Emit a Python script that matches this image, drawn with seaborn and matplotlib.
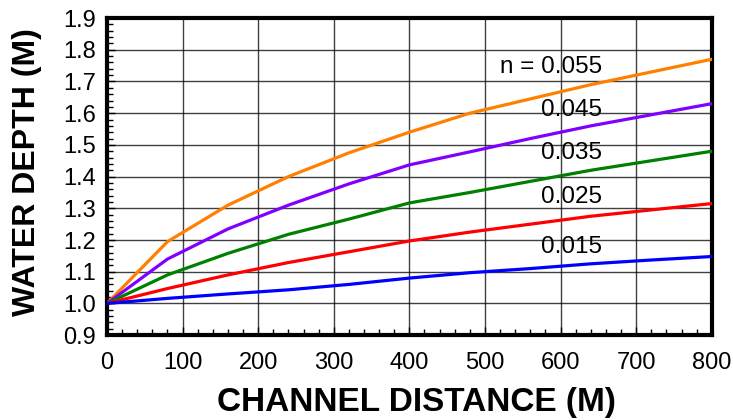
import pandas as pd
import matplotlib
matplotlib.use("Agg")
import matplotlib.pyplot as plt
import seaborn as sns
from matplotlib.ticker import MultipleLocator

# Values
distance = [0, 80, 160, 240, 320, 400, 480, 560, 640, 720, 800]
depth_0055 = [1.0, 1.195, 1.31, 1.40, 1.475, 1.54, 1.60, 1.645, 1.69, 1.73, 1.77]
depth_0045 = [1.0, 1.14, 1.235, 1.31, 1.377, 1.437, 1.478, 1.52, 1.56, 1.595, 1.63]
depth_0035 = [1.0, 1.09, 1.158, 1.218, 1.266, 1.317, 1.35, 1.385, 1.42, 1.45, 1.48]
depth_0025 = [1.0, 1.047, 1.09, 1.129, 1.163, 1.197, 1.225, 1.25, 1.275, 1.295, 1.315]
depth_0015 = [1.0, 1.016, 1.03, 1.043, 1.06, 1.08, 1.097, 1.11, 1.125, 1.137, 1.148]

roughness = ["0.055", "0.045", "0.035", "0.025", "0.015"]
curve_labels = ["n = 0.055", "0.045", "0.035", "0.025", "0.015"]
label_y = [1.745, 1.609, 1.473, 1.336, 1.179]
colors = ["#ff8000", "#8000ff", "#008000", "#ff0000", "#0000ff"]

series = [depth_0055, depth_0045, depth_0035, depth_0025, depth_0015]
df = pd.concat(
    [pd.DataFrame({"distance": distance, "depth": s, "n": r}) for s, r in zip(series, roughness)],
    ignore_index=True,
)

sns.set_style("white")
plt.rcParams["font.family"] = ["Liberation Sans", "DejaVu Sans"]
plt.rcParams["text.color"] = "black"
plt.rcParams["axes.labelcolor"] = "black"
plt.rcParams["xtick.color"] = "black"
plt.rcParams["ytick.color"] = "black"

fig = plt.figure(figsize=(7.33, 4.2), dpi=100)
ax = fig.add_axes([0.146, 0.202, 0.825, 0.755])

sns.lineplot(data=df, x="distance", y="depth", hue="n", palette=colors,
             hue_order=roughness, linewidth=2.3, legend=False, ax=ax, zorder=3)

for lab, yv in zip(curve_labels, label_y):
    ax.text(655, yv, lab, ha="right", va="center", fontsize=17.5, zorder=4)

ax.set_xlim(0, 800)
ax.set_ylim(0.9, 1.9)
ax.xaxis.set_major_locator(MultipleLocator(100))
ax.xaxis.set_minor_locator(MultipleLocator(20))
ax.yaxis.set_major_locator(MultipleLocator(0.1))
ax.yaxis.set_minor_locator(MultipleLocator(0.02))
ax.yaxis.set_major_formatter(plt.FuncFormatter(lambda v, p: f"{v:.1f}"))

ax.grid(True, which="major", color="black", linewidth=1.0, alpha=0.75, zorder=1)
ax.tick_params(which="both", direction="in", left=True, bottom=True)
ax.tick_params(which="major", length=6, width=1)
ax.tick_params(which="minor", length=4, width=1)
ax.tick_params(axis="x", labelsize=17, pad=12)
ax.tick_params(axis="y", labelsize=17, pad=8)
for sp in ax.spines.values():
    sp.set_linewidth(3)
    sp.set_color("black")

ax.set_xlabel("CHANNEL DISTANCE (M)", fontsize=24, fontweight="bold")
ax.set_ylabel("WATER DEPTH (M)", fontsize=23, fontweight="bold")
ax.xaxis.set_label_coords(0.512, -0.162)
ax.yaxis.set_label_coords(-0.107, 0.514)

fig.savefig("out.png", dpi=100)
